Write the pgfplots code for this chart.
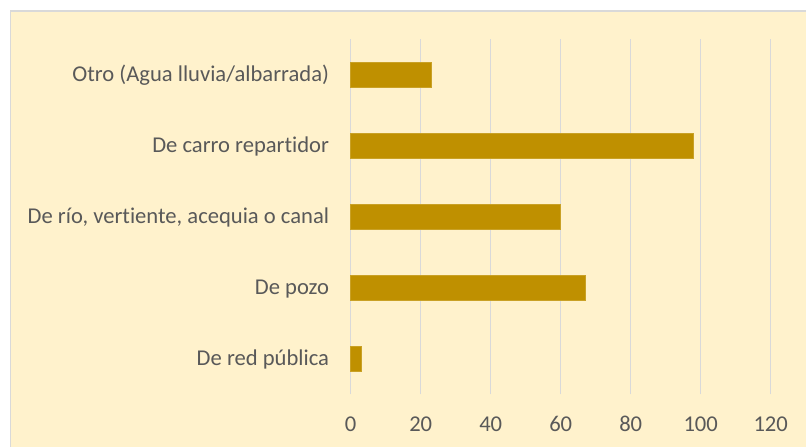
\documentclass[border=0pt]{standalone}
\usepackage{pgfplots}
\pgfplotsset{compat=1.18}
\usepackage{fontspec}
\setmainfont{Carlito}[Ligatures=NoCommon]
\definecolor{bg}{HTML}{FFF2CC}
\definecolor{frame}{HTML}{D9D9D9}
\definecolor{barc}{HTML}{BF9000}
\definecolor{txt}{HTML}{595959}
\begin{document}
\fontsize{22.6bp}{26bp}\selectfont
\begin{tikzpicture}[x=1bp,y=1bp]
\useasboundingbox (0,0) rectangle (806,447);
\fill[white] (0,0) rectangle (806,447);
\fill[bg] (10.5,0) rectangle (806,436);
\draw[frame, line width=1.5bp] (10.5,0) -- (10.5,436) -- (806,436);
\begin{axis}[
  at={(350.7bp,52.7bp)}, anchor=south west,
  scale only axis, width=420bp, height=355bp,
  xmin=0, xmax=120, ymin=-0.5, ymax=4.5,
  xbar, bar width=25bp,
  axis line style={draw=none},
  major tick length=0pt,
  xtick={0,20,...,120},
  ytick={0,1,2,3,4},
  yticklabels={De red pública, De pozo, {De río, vertiente, acequia o canal}, De carro repartidor, {Otro (Agua lluvia/albarrada)}},
  xmajorgrids, ymajorgrids=false,
  major grid style={draw=frame, line width=1.4bp},
  tick label style={font=\fontsize{22.6bp}{26bp}\selectfont, text=txt, inner sep=0pt},
  /pgf/number format/assume math mode=true,
  xticklabel style={anchor=base, yshift=-37.4bp},
  yticklabel style={anchor=base east, xshift=-21.5bp, yshift=-7.2bp},
  clip=false,
]
\addplot[fill=barc, draw=barc!85!white, line width=0.6bp] coordinates {(3,0) (67,1) (60,2) (98,3) (23,4)};
\end{axis}
\end{tikzpicture}
\end{document}
